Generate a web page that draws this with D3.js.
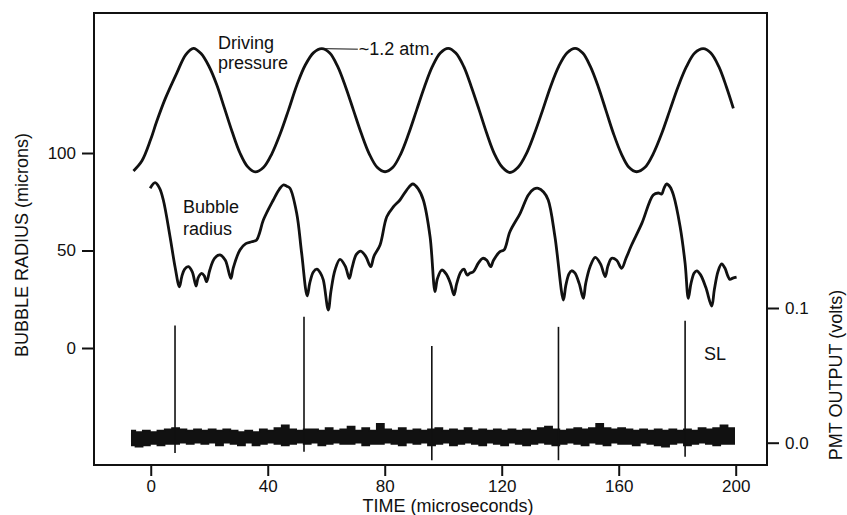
<!DOCTYPE html>
<html>
<head>
<meta charset="utf-8">
<script src="https://cdn.jsdelivr.net/npm/d3@7"></script>
<style>
  html, body { margin: 0; padding: 0; background: #fff; }
  svg { display: block; }
  text { font-family: "Liberation Sans", Arial, Helvetica, sans-serif; fill: #111; }
</style>
</head>
<body>
<svg id="chart" width="847" height="515"></svg>
<script>
// ---------- DATA ----------
const timeTicks = [0, 40, 80, 120, 160, 200];
const radiusTicks = [0, 50, 100];
const pmtTicks = [0.0, 0.1];

// Driving pressure, plotted in left-axis units: [time µs, value]
const pressure = [
  [-5.9, 90.8], [-3, 96], [0, 107], [2, 116], [5, 128], [8.9, 141], [12, 150.5], [14.6, 153.7],
  [17.2, 151], [19.9, 144.5], [22.6, 134.9], [25.2, 123], [27.8, 111], [30.5, 100], [33.1, 93], [35.7, 90.3],
  [38.6, 92.7], [41.4, 99.6], [44.3, 110], [47.1, 122], [50, 135], [52.8, 145], [55.7, 151.5], [58.5, 153.5],
  [61.2, 151.3], [63.9, 144.4], [66.6, 134], [69.3, 122], [72, 110], [74.7, 99.6], [77.4, 92.7], [80.1, 90.4],
  [82.8, 92.7], [85.5, 99.6], [88.2, 110], [90.9, 122], [93.6, 134], [96.3, 144.4], [99, 151.3], [101.7, 153.7],
  [104.3, 151.3], [107, 144.4], [109.6, 134], [112.3, 122], [114.9, 110], [117.5, 99.6], [120.2, 92.7], [122.8, 90],
  [125.6, 92.7], [128.4, 99.6], [131.2, 110], [134, 122], [136.7, 134], [139.5, 144.4], [142.3, 151.3], [145.1, 153.7],
  [147.7, 151.3], [150.3, 144.4], [153, 134], [155.6, 122], [158.2, 110], [160.9, 99.6], [163.5, 92.7], [166.1, 90.4],
  [169, 92.7], [171.8, 99.6], [174.7, 110], [177.5, 122], [180.3, 134], [183.2, 144.4], [186, 151.3], [188.9, 153.5],
  [191.5, 151.3], [194.2, 144.4], [196.8, 134], [199.2, 122.9]
];

// Bubble radius (microns): [time µs, radius]
const bubble = [
  [-0.2, 81.9], [1.5, 84.8], [3.0, 82], [4.3, 75.9], [6.6, 57.1], [8.3, 41.7], [9.8, 31.4],
  [10.6, 36.5], [11.6, 40.5], [12.9, 41.7], [14.2, 39], [15.5, 31.8], [16.2, 36], [17.4, 38.3],
  [18.3, 37], [19.1, 34.0], [20.2, 40], [21.8, 46], [23.7, 47.7], [25.5, 45], [27.4, 35.7],
  [28.2, 41], [30.5, 50.3], [32.5, 53.5], [34.5, 54.5], [36.2, 55.4], [37.2, 59], [38.5, 65.6],
  [41.9, 75.9], [44.0, 81.5], [45.3, 83.6], [46.5, 83], [47.6, 81.9], [49.9, 69.1], [51.6, 48.6],
  [53.5, 26.7], [54.4, 33.5], [55.6, 39], [56.8, 40.4], [58.0, 38.5], [59.0, 34.9], [60.7, 19.5],
  [61.6, 29], [63.0, 40], [64.7, 45.5], [66.5, 42], [67.9, 35.7], [68.8, 41], [70.3, 48],
  [71.8, 49.7], [73.5, 47], [75.2, 41.7], [76.3, 47], [78.4, 52.8], [80.7, 67.3], [83, 72.5],
  [85.2, 75.9], [87.5, 81], [89.6, 84.1], [91.5, 81.5], [93.2, 75.9], [95.5, 57.1], [97.2, 28.9],
  [98.0, 35.5], [99.5, 40], [101.0, 38], [102.5, 33], [103.7, 27.2], [104.6, 33], [106.0, 39],
  [107.1, 40.4], [108.2, 37.4], [109.2, 38.5], [110.3, 39.1], [112.0, 43.5], [113.5, 46.0],
  [114.9, 45], [116.2, 41.7], [117.2, 45], [119.4, 49.4], [120.8, 50.3], [122.8, 59.6],
  [126.3, 69.1], [129.1, 78.5], [131.0, 81.5], [132.5, 81.9], [134.3, 80], [135.9, 75.9],
  [138.2, 57.1], [141.1, 24.6], [141.9, 32], [143.0, 38], [143.9, 39.6], [145.0, 38.5],
  [146.5, 33], [147.9, 25.5], [148.7, 33], [150.2, 41.7], [152.0, 46.5], [153.8, 43],
  [155.4, 36.6], [156.3, 42], [157.6, 46.0], [159.3, 45], [161.0, 40.9], [162.5, 46],
  [164.4, 52.8], [167.9, 63.9], [171.8, 78.5], [173.5, 79.5], [174.7, 79.0], [175.5, 82],
  [176.4, 84.1], [177.6, 82.5], [178.7, 78.5], [181.0, 62.2], [182.7, 43.4], [183.8, 25.5],
  [184.7, 33], [185.8, 38.5], [186.7, 39.6], [188.0, 37.5], [189.8, 31], [191.8, 21.5],
  [192.7, 30], [194.0, 39.5], [195.2, 43.1], [196.3, 41], [197.3, 37], [198.0, 35.2],
  [199.0, 35.8], [200.3, 36.3]
];

// Sonoluminescence flashes on PMT (volts): time, top, bottom
const flashTimes = [8.3, 52.4, 96.1, 139.4, 182.7];
const flashTops = [0.087, 0.0935, 0.0717, 0.086, 0.0905];
const flashBottoms = [-0.0076, -0.0067, -0.013, -0.013, -0.0104];

// PMT noise band (volts): [time µs, upper, lower]
const noise = [
  [-6.5, 0.009, -0.002], [-4, 0.008, -0.003], [-1.5, 0.009, -0.002], [1, 0.008, -0.001],
  [3.5, 0.009, -0.002], [6, 0.010, -0.001], [8.5, 0.011, -0.001], [11, 0.010, 0.000],
  [13.5, 0.009, -0.001], [16, 0.010, 0.000], [18.5, 0.009, -0.001], [21, 0.010, 0.000],
  [23.5, 0.009, -0.002], [26, 0.010, 0.000], [28.5, 0.009, -0.001], [31, 0.008, -0.002],
  [33.5, 0.009, 0.000], [36, 0.008, -0.002], [38.5, 0.010, -0.001], [41, 0.009, 0.000],
  [43.5, 0.011, -0.001], [46, 0.013, -0.002], [48.5, 0.010, -0.001], [51, 0.009, 0.000],
  [53.5, 0.010, -0.001], [56, 0.010, 0.000], [58.5, 0.009, -0.002], [61, 0.011, -0.001],
  [63.5, 0.009, 0.000], [66, 0.010, -0.001], [68.5, 0.012, -0.001], [71, 0.009, 0.000],
  [73.5, 0.011, -0.002], [76, 0.009, -0.001], [78.5, 0.014, -0.001], [81, 0.010, 0.000],
  [83.5, 0.009, -0.001], [86, 0.011, -0.002], [88.5, 0.009, 0.000], [91, 0.010, -0.001],
  [93.5, 0.009, 0.000], [96, 0.010, -0.002], [98.5, 0.011, -0.001], [101, 0.009, 0.000],
  [103.5, 0.010, -0.002], [106, 0.009, -0.001], [108.5, 0.011, 0.000], [111, 0.009, -0.001],
  [113.5, 0.010, -0.002], [116, 0.009, 0.000], [118.5, 0.010, -0.001], [121, 0.009, -0.002],
  [123.5, 0.010, 0.000], [126, 0.009, -0.001], [128.5, 0.010, -0.002], [131, 0.009, -0.001],
  [133.5, 0.011, 0.000], [136, 0.012, -0.001], [138.5, 0.010, -0.002], [141, 0.009, -0.001],
  [143.5, 0.010, 0.000], [146, 0.011, -0.001], [148.5, 0.010, -0.002], [151, 0.011, 0.000],
  [153.5, 0.014, -0.001], [156, 0.011, -0.002], [158.5, 0.010, 0.000], [161, 0.011, -0.001],
  [163.5, 0.010, -0.001], [166, 0.009, -0.002], [168.5, 0.010, 0.000], [171, 0.009, -0.001],
  [173.5, 0.010, -0.002], [176, 0.009, -0.003], [178.5, 0.010, -0.001], [181, 0.009, 0.000],
  [183.5, 0.010, -0.002], [186, 0.009, -0.001], [188.5, 0.011, 0.000], [191, 0.010, -0.001],
  [193.5, 0.011, -0.002], [196, 0.013, -0.001], [198.5, 0.011, -0.001], [199.5, 0.011, -0.001]
];

// ---------- LAYOUT ----------
const frame = { left: 94, right: 767, top: 13, bottom: 465 };
const FONT = 18;
const TICKFONT = 17;

const svg = d3.select("#chart");

const x = d3.scaleLinear().domain([-19.4, 210.7]).range([frame.left, frame.right]);
const yL = d3.scaleLinear().domain([-60, 171.8]).range([frame.bottom, frame.top]);
const yR = d3.scaleLinear().domain([-0.01655, 0.3190]).range([frame.bottom, frame.top]);

// Axes
const gx = svg.append("g").attr("transform", `translate(0,${frame.bottom})`)
  .call(d3.axisBottom(x).tickValues(timeTicks).tickFormat(d3.format("d")).tickSize(11).tickPadding(4));
const gl = svg.append("g").attr("transform", `translate(${frame.left},0)`)
  .call(d3.axisLeft(yL).tickValues(radiusTicks).tickFormat(d3.format("d")).tickSize(12).tickPadding(6));
const gr = svg.append("g").attr("transform", `translate(${frame.right},0)`)
  .call(d3.axisRight(yR).tickValues(pmtTicks).tickFormat(d3.format(".1f")).tickSize(12).tickPadding(6));

[gx, gl, gr].forEach(g => {
  g.select(".domain").remove();
  g.selectAll(".tick line").attr("stroke", "#111").attr("stroke-width", 2);
  g.selectAll(".tick text").attr("font-size", TICKFONT).attr("fill", "#111")
    .attr("font-family", "'Liberation Sans', Arial, Helvetica, sans-serif");
});

// Frame
svg.append("rect")
  .attr("x", frame.left).attr("y", frame.top)
  .attr("width", frame.right - frame.left).attr("height", frame.bottom - frame.top)
  .attr("fill", "none").attr("stroke", "#111").attr("stroke-width", 2);

// Noise band
const noiseArea = d3.area()
  .x(d => x(d[0])).y0(d => yR(d[2])).y1(d => yR(d[1]))
  .curve(d3.curveStep);
svg.append("path").datum(noise).attr("d", noiseArea).attr("fill", "#111").attr("stroke", "#111").attr("stroke-width", 1.5);

// Flash spikes
svg.append("g").selectAll("line").data(flashTimes).join("line")
  .attr("x1", d => x(d)).attr("x2", d => x(d))
  .attr("y1", (d, i) => yR(flashTops[i])).attr("y2", (d, i) => yR(flashBottoms[i]))
  .attr("stroke", "#111").attr("stroke-width", 1.6);

// Curves
const line = d3.line().x(d => x(d[0])).y(d => yL(d[1])).curve(d3.curveCatmullRom.alpha(0.5));
svg.append("path").datum(pressure).attr("d", line)
  .attr("fill", "none").attr("stroke", "#111").attr("stroke-width", 2.8).attr("stroke-linejoin", "round");
svg.append("path").datum(bubble).attr("d", line)
  .attr("fill", "none").attr("stroke", "#111").attr("stroke-width", 2.8).attr("stroke-linejoin", "round");

// Annotations
function label(txt, px, py, anchor = "start") {
  return svg.append("text").attr("x", px).attr("y", py).attr("font-size", FONT)
    .attr("text-anchor", anchor).text(txt);
}
label("Driving", 218, 49);
label("pressure", 218, 69);
label("Bubble", 183, 213);
label("radius", 183, 235);
label("SL", 704, 360);

// ~1.2 atm. leader from the second pressure peak
const peak2 = pressure[23];
svg.append("line")
  .attr("x1", x(peak2[0]) + 2).attr("y1", yL(peak2[1]))
  .attr("x2", x(peak2[0]) + 36).attr("y2", yL(peak2[1]) + 0.5)
  .attr("stroke", "#111").attr("stroke-width", 1);
label("~1.2 atm.", x(peak2[0]) + 37, yL(peak2[1]) + 6);

// Axis titles
svg.append("text").attr("font-size", FONT).attr("text-anchor", "middle")
  .attr("x", 448).attr("y", 512).text("TIME (microseconds)");
svg.append("text").attr("font-size", FONT).attr("text-anchor", "middle")
  .attr("transform", "translate(28,245) rotate(-90)").text("BUBBLE RADIUS (microns)");
svg.append("text").attr("font-size", FONT).attr("text-anchor", "middle")
  .attr("transform", "translate(842,375) rotate(-90)").text("PMT OUTPUT (volts)");
</script>
</body>
</html>
